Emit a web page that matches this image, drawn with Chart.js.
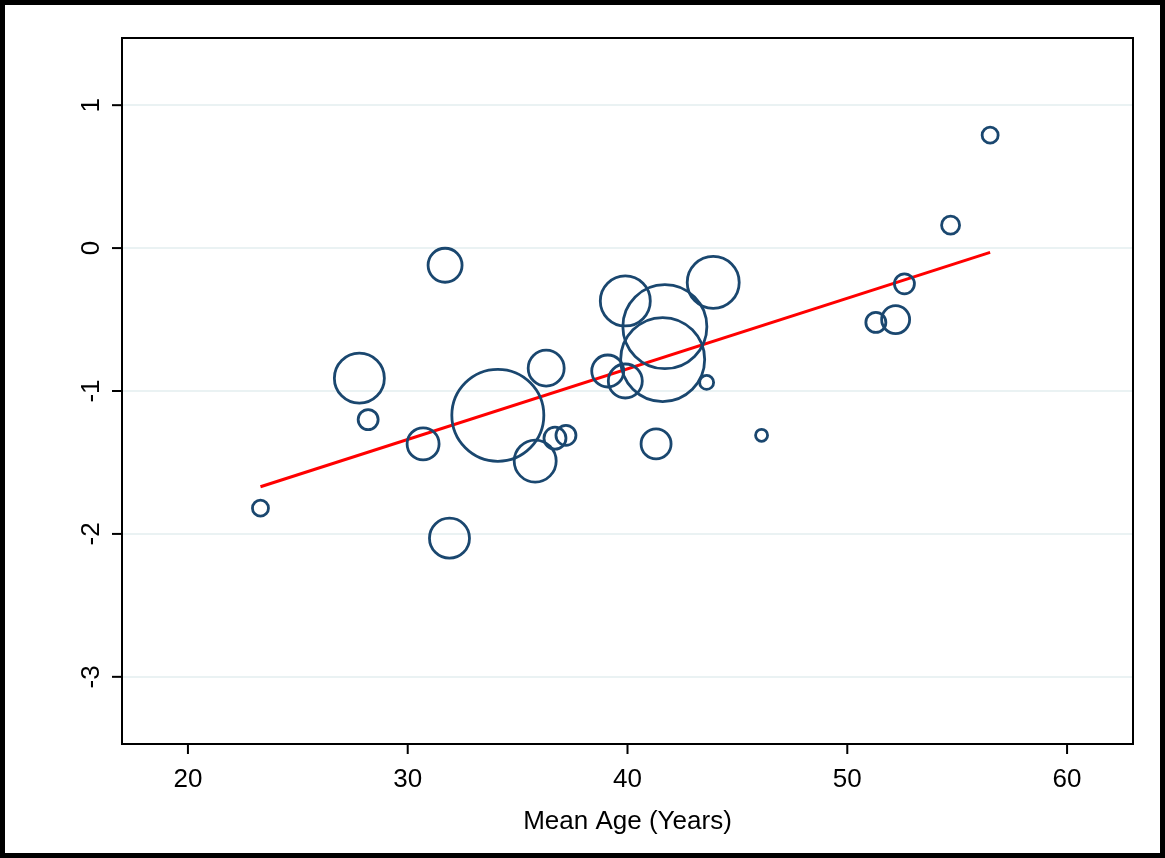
<!DOCTYPE html>
<html>
<head>
<meta charset="utf-8">
<script src="https://cdn.jsdelivr.net/npm/chart.js@4"></script>
<style>
  body { margin: 0; background: #fff; }
  #wrap { width: 1165px; height: 858px; box-sizing: border-box; border: 5px solid #000; }
  canvas { display: block; }
</style>
</head>
<body>
<div id="wrap"><canvas id="chart" width="1155" height="848"></canvas></div>
<script>
const meanAge = [23.3, 27.8, 28.2, 30.7, 31.7, 31.9, 34.1, 35.8, 36.3, 36.7, 37.2, 39.1, 39.9, 39.9, 41.3, 41.7, 41.6, 43.9, 43.6, 46.1, 51.3, 52.2, 52.6, 54.7, 56.5];
const effect = [-1.82, -0.91, -1.2, -1.37, -0.12, -2.03, -1.17, -1.49, -0.84, -1.33, -1.31, -0.86, -0.37, -0.93, -1.37, -0.55, -0.78, -0.24, -0.94, -1.31, -0.52, -0.5, -0.25, 0.16, 0.79];
const weight = [8, 25, 10, 16, 17, 20, 46, 21, 18, 11, 10, 16, 25, 17, 15, 42, 42, 26, 7, 6, 10, 14, 10, 9, 8];
const fitX = [23.3, 56.5];
const fitY = [-1.67, -0.03];
const xTicks = [20, 30, 40, 50, 60];
const yTicks = [1, 0, -1, -2, -3];

const font = 'Liberation Sans, Arial, sans-serif';

const bubbles = meanAge.map((x, i) => ({ x: x, y: effect[i], r: weight[i] }));
const fitLine = fitX.map((x, i) => ({ x: x, y: fitY[i] }));

const stataLook = {
  id: 'stataLook',
  afterDraw(chart) {
    const c = chart.ctx, a = chart.chartArea, ys = chart.scales.y, xs = chart.scales.x;
    c.save();
    c.strokeStyle = '#000';
    c.lineWidth = 2;
    c.strokeRect(a.left, a.top, a.right - a.left, a.bottom - a.top);
    // y ticks outward + rotated labels
    c.fillStyle = '#000';
    c.font = '26px ' + font;
    c.textAlign = 'center';
    c.textBaseline = 'middle';
    yTicks.forEach(v => {
      const py = ys.getPixelForValue(v);
      c.beginPath();
      c.moveTo(a.left - 10, py);
      c.lineTo(a.left, py);
      c.stroke();
      c.save();
      c.translate(a.left - 30, py);
      c.rotate(-Math.PI / 2);
      c.fillText(String(v), 0, 0);
      c.restore();
    });
    xTicks.forEach(v => {
      const px = xs.getPixelForValue(v);
      c.beginPath();
      c.moveTo(px, a.bottom);
      c.lineTo(px, a.bottom + 10);
      c.stroke();
    });
    c.restore();
  }
};

new Chart(document.getElementById('chart'), {
  type: 'bubble',
  data: {
    datasets: [
      {
        data: bubbles,
        backgroundColor: 'rgba(0,0,0,0)',
        borderColor: '#1a476f',
        borderWidth: 2.8,
        hoverRadius: 0
      },
      {
        type: 'line',
        data: fitLine,
        borderColor: '#ff0000',
        borderWidth: 3,
        pointRadius: 0,
        fill: false
      }
    ]
  },
  options: {
    responsive: false,
    animation: false,
    layout: { autoPadding: false, padding: { top: 33, right: 27, left: 0, bottom: 12 } },
    plugins: { legend: { display: false }, tooltip: { enabled: false } },
    scales: {
      x: {
        type: 'linear', min: 17, max: 63,
        afterBuildTicks: s => { s.ticks = xTicks.map(v => ({ value: v })); },
        afterFit: s => { s.height = 97; },
        grid: { display: false },
        border: { display: false },
        ticks: { color: '#000', font: { family: font, size: 26 }, padding: 12 },
        title: { display: true, text: 'Mean Age (Years)', color: '#000', font: { family: font, size: 26 }, padding: { top: 0 } }
      },
      y: {
        type: 'linear', min: -3.47, max: 1.47,
        afterBuildTicks: s => { s.ticks = yTicks.map(v => ({ value: v })); },
        afterFit: s => { s.width = 117; },
        grid: { color: '#eaf2f3', lineWidth: 2, drawTicks: false },
        border: { display: false },
        ticks: { display: false }
      }
    }
  },
  plugins: [stataLook]
});
</script>
</body>
</html>
